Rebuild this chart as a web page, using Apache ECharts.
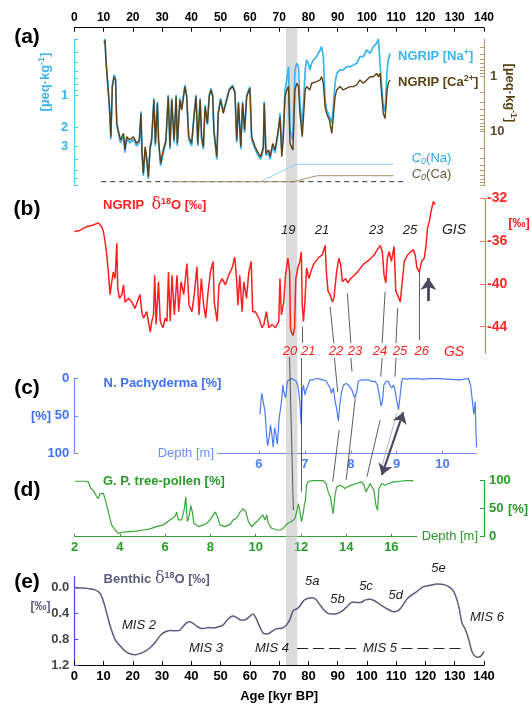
<!DOCTYPE html>
<html><head><meta charset="utf-8">
<script src="https://cdn.jsdelivr.net/npm/echarts@6.0.0/dist/echarts.min.js"></script>
<style>html,body{margin:0;padding:0;background:#fff}#c{width:530px;height:708px}</style>
</head><body><div id="c"></div>
<script>
// ---------- Panel (a): NGRIP Na+ and Ca2+ (µeq/kg) vs age (kyr BP)
const ageA = [10.2,10.5,10.8,11.3,12.0,12.5,13.0,13.6,14.1,14.5,15.0,15.8,16.8,17.3,17.9,19.0,20.2,21.3,22.2,22.8,23.1,23.6,24.2,24.7,25.3,25.9,26.4,27.2,27.7,28.4,28.8,29.5,30.4,31.3,32.1,32.7,33.3,34.1,34.8,35.2,36.1,36.7,37.8,38.4,39.1,40.1,40.9,41.6,42.2,43.0,43.5,44.1,44.7,45.5,46.1,46.7,47.3,47.7,48.7,49.2,50.0,50.9,51.8,52.4,53.0,54.1,54.9,55.5,56.1,56.9,57.5,58.2,58.9,60.0,60.6,61.8,62.9,63.7,64.6,64.9,65.5,66.4,66.9,67.8,68.6,69.7,
70.3,70.9,71.4,72.0,72.6,73.2,73.7,74.7,75.4,76.0,76.6,77.1,77.9,78.9,79.4,80.0,80.5,81.1,81.7,82.8,84.0,84.5,85.1,85.7,86.2,87.2,88.0,88.5,89.1,89.7,90.8,91.9,93.1,94.2,95.4,96.5,97.6,98.8,99.9,101.1,102.2,103.3,103.9,104.5,105.1,105.6,106.2,106.9,107.3,107.9];
const naA = [0.32,0.30,0.46,0.47,1.24,2.6,0.81,0.65,0.70,1.9,
2.25,2.8,2.4,3.46,2.6,2.8,2.6,3.0,2.8,1.43,
3.46,5.7,3.22,4.0,6.1,3.22,2.8,1.07,3.0,1.15,
2.8,4.6,3.46,2.8,1.0,3.22,1.07,2.8,1.0,3.0,
1.07,1.33,0.81,1.0,2.6,3.0,1.54,1.0,3.0,1.07,
2.6,3.22,1.24,1.9,1.0,0.87,1.0,2.25,4.0,1.43,
1.07,1.43,1.15,1.0,0.87,0.81,0.93,2.8,1.15,3.22,
1.15,2.25,1.0,0.84,2.6,3.22,3.7,4.0,3.22,1.15,
3.7,3.46,4.0,3.0,3.46,2.25,
1.48,3.27,2.28,0.90,0.725,0.544,2.12,2.63,0.584,0.506,
0.544,1.20,1.98,0.584,0.471,0.506,0.584,0.506,0.471,0.438,
0.38,0.353,0.438,1.11,1.38,1.59,1.84,1.29,0.778,0.628,
0.584,0.584,0.544,0.544,0.525,0.506,0.438,0.438,0.38,0.408,
0.353,0.329,0.30,0.306,0.898,1.29,1.43,0.584,0.471,0.408];
const caA = [0.26,0.23,0.52,0.55,3.6,12.3,1.55,1.03,1.18,7.1,
9.3,14.1,10.7,21.3,12.3,14.1,12.3,16.2,14.1,4.7,
21.3,56,18.6,28.1,64,18.6,14.1,2.7,16.2,3.1,
14.1,37,21.3,14.1,2.35,18.6,2.7,14.1,2.35,16.2,
2.7,4.1,1.55,2.35,12.3,16.2,5.4,2.35,16.2,2.7,
12.3,18.6,3.6,7.1,2.35,1.78,2.35,9.3,28.1,4.7,
2.7,4.7,3.1,2.35,1.78,1.55,2.05,14.1,3.1,18.6,
3.1,9.3,2.35,1.66,12.3,18.6,24.5,28.1,18.6,3.1,
24.5,21.3,28.1,16.2,21.3,9.3,
5.4,28.1,14.1,2.35,1.78,1.55,16.2,21.3,1.78,1.35,
1.55,4.7,12.3,1.78,1.55,1.66,1.78,1.35,1.35,1.26,
1.18,1.03,1.35,3.56,4.7,6.2,10.7,5.4,2.35,1.78,
1.55,1.78,1.66,1.55,1.55,1.45,1.18,1.35,1.18,1.03,
1.03,0.90,1.03,0.90,2.35,4.7,5.8,1.78,1.35,1.18];
const c0NaAge = [63.5, 76, 109];
const c0Na = [6.46, 4.44, 4.44];
const c0CaAge = [33, 75, 83, 109];
const c0Ca = [79, 79, 61.6, 61.6];
const baseAge = [9.2, 113.6];
const baseNa = [6.46, 6.46];
const naLabelVals = [1, 2, 3];
const naTickVals = [0.3,0.4,0.5,0.6,0.7,0.8,0.9,1,2,3,4,5,6,7];
const caLabelVals = [1, 10];
const caTickVals = [0.3,0.4,0.5,0.6,0.7,0.8,0.9,1,2,3,4,5,6,7,8,9,10,20,30,40,50,60,70,80,90];

// ---------- Panel (b): NGRIP d18O (permil) vs age
const ageB = [0,1.95,4.2,6.5,8.2,9.35,9.9,10.5,11.06,11.6,12.2,12.77,13.3,13.9,14.5,14.8,15.4,16.2,16.8,17.3,18.5,19.6,20.7,21.9,22.4,23.0,23.6,24.7,25.9,26.4,27.0,27.4,27.9,28.7,29.3,30.2,31.0,31.6,32.1,32.7,33.3,34.1,35.0,35.6,36.4,37.3,38.4,39.1,40.1,40.9,41.8,42.5,43.3,44.1,44.8,45.5,46.4,47.3,47.7,48.7,49.3,50.4,51.5,52.6,53.8,54.7,55.3,55.8,56.4,57.2,57.8,58.7,59.5,60.3,60.8,61.7,62.9,64.0,64.6,65.5,66.3,67.4,68.6,69.7,
70.1,70.6,71.4,72.0,72.8,73.4,73.7,74.1,74.6,75.1,75.5,76.2,76.9,77.4,77.7,78.1,78.6,79.2,80.0,80.6,81.5,82.3,83.4,84.5,85.5,86.0,86.5,87.2,88.0,88.5,89.4,90.2,90.8,91.4,92.5,93.3,94.2,95.4,96.5,97.6,98.8,99.9,101.1,102.2,103.3,104.3,105.0,105.6,106.2,106.7,107.3,108.1,109.0,109.6,110.2,111.1,111.9,112.5,113.6,114.7,115.6,116.2,116.8,117.6,118.4,119.3,119.9,120.4,121.0,121.6,122.4,123.0];
const d18O = [-35.1,-35.0,-34.65,-34.5,-34.3,-34.65,-35.1,-36.05,-37.3,-38.9,-41.0,-39.8,-38.9,-39.5,-36.2,-40.4,-41.35,-41.0,-40.1,-41.7,-41.35,-41.7,-42.3,-41.35,-41.0,-42.6,-43.2,-42.6,-44.5,-43.5,-42.9,-39.2,-43.8,-39.8,-43.5,-44.1,-43.2,-43.5,-38.9,-43.5,-39.2,-42.9,-39.2,-42.6,-39.8,-41.0,-38.1,-42.0,-42.6,-41.0,-38.4,-42.9,-39.5,-42.0,-43.2,-41.0,-38.9,-37.9,-41.7,-43.5,-40.1,-39.5,-40.1,-39.2,-38.5,-37.5,-39.5,-42.0,-39.2,-42.6,-39.8,-41.35,-38.9,-37.9,-42.6,-42.6,-43.2,-44.1,-43.8,-42.6,-44.1,-43.8,-44.1,-43.5,
-39.5,-42.9,-41.7,-39.2,-37.6,-38.9,-44.1,-44.6,-44.8,-44.1,-39.5,-38.5,-37.9,-37.0,-42.0,-43.5,-41.7,-38.5,-39.5,-38.9,-38.2,-37.9,-37.5,-37.3,-36.4,-39.2,-40.7,-41.0,-41.7,-41.35,-38.9,-37.6,-38.2,-39.8,-39.5,-39.9,-39.5,-39.2,-38.9,-38.5,-38.1,-37.9,-37.6,-37.3,-36.8,-36.4,-37.0,-39.2,-39.9,-37.6,-37.0,-37.9,-36.5,-40.7,-41.0,-41.7,-39.5,-37.9,-37.3,-37.0,-36.8,-37.3,-38.5,-38.9,-37.9,-37.6,-36.4,-34.8,-34.2,-33.25,-32.3,-32.6];
const d18Ticks = [-44, -40, -36, -32];

// ---------- Panel (c): N. pachyderma (%) vs depth (m)
const depthC = [6.02,6.06,6.09,6.13,6.17,6.19,6.23,6.25,6.28,6.31,6.34,6.37,6.40,6.44,6.49,6.52,6.54,6.58,6.62,6.66,6.71,6.76,6.81,6.84,6.86,6.89,6.92,6.94,6.97,7.00,7.04,7.07,7.11,7.18,7.26,7.33,7.40,7.47,7.51,7.55,7.58,7.62,7.66,7.69,7.73,7.76,7.80,7.84,7.90,7.95,7.98,8.02,8.06,8.09,8.13,8.16,8.24,8.31,8.38,8.45,8.53,8.58,8.62,8.66,8.69,8.72,8.77,8.82,8.85,8.89,8.93,8.96,9.00,9.04,9.07,9.11,9.14,9.22,9.36,9.58,9.80,10.09,10.38,10.56,10.61,10.65,10.68,10.71,10.73,10.74];
const pachy = [48,20,22,44,79,90,75,62,75,92,66,75,88,53,31,9,18,26,4,2,0,2,4,9,15,31,62,18,9,22,13,9,2,2,0,1,2,4,9,13,20,13,31,40,57,35,18,9,7,9,7,15,22,26,18,4,2,2,2,4,4,9,22,37,31,9,4,4,9,13,9,15,29,42,26,4,0,1,0,1,0,1,2,0,9,31,48,31,75,92];
const depthCTicks = [6, 7, 8, 9, 10];
const pachyTicks = [0, 50, 100];

// ---------- Panel (d): G. P. tree pollen (%) vs depth (m)
const depthD = [2.01,2.46,2.60,2.71,2.82,2.94,3.04,3.12,3.19,3.27,3.38,3.49,3.63,3.78,3.93,4.15,4.44,4.74,5.03,5.33,5.62,5.92,6.21,6.43,6.51,6.58,6.73,6.85,6.91,6.98,7.07,7.13,7.20,7.27,7.47,7.69,7.84,7.98,8.13,8.22,8.31,8.42,8.64,8.87,9.01,9.16,9.31,9.45,9.57,9.68,9.82,9.97,10.12,10.19,10.31,10.41,10.49,10.56,10.71,10.93,11.10,11.22,11.34,11.44,11.59,11.74,11.81,11.89,11.96,12.03,12.11,12.15,12.20,12.25,12.33,12.55,12.84,12.99,13.11,13.21,13.32,13.39,13.43,13.51,13.58,13.73,13.85,13.95,14.05,14.24,14.46,14.69,14.79,14.88,14.95,15.06,15.14,15.23,15.32,15.39,15.45,15.57,15.72,15.87,16.09,16.38,16.68,16.97];
const pollen = [99,99,98,86,83,74,68,77,80,77,62,44,21,12,6,8,9,10,12,14,18,21,30,36,44,30,30,50,71,27,39,56,44,24,18,21,24,30,39,44,36,21,18,22,30,33,44,50,44,27,18,24,30,33,39,30,39,24,15,12,12,15,21,24,27,33,44,59,44,27,44,56,65,92,99,100,100,100,95,80,68,50,41,74,89,92,89,86,89,92,95,98,92,80,83,95,92,83,56,47,86,95,92,95,98,99,100,100];
const depthDTicks = [2, 4, 6, 8, 10, 12, 14, 16];
const pollenTicks = [0, 50, 100];

// ---------- Panel (e): Benthic d18O (permil) vs age
const ageE = [0,2.5,4.8,7.1,8.8,10.0,11.1,12.3,14.0,15.8,17.5,19.2,20.9,22.6,24.4,26.1,27.8,29.6,31.3,33.0,34.7,36.2,37.6,39.1,40.5,42.2,43.9,45.7,47.4,49.1,50.8,52.3,54.1,55.4,56.8,58.3,59.8,61.0,62.1,63.3,64.6,66.0,67.5,69.0,71.0,72.5,73.6,74.8,76.1,77.3,78.4,79.9,81.3,82.5,84.0,85.3,86.7,88.2,89.9,91.7,93.4,95.1,96.6,98.0,99.5,100.9,102.4,103.8,105.2,106.6,108.4,109.5,111.0,112.3,113.9,115.3,117.0,118.7,120.4,122.2,123.9,125.6,127.3,129.1,130.2,131.4,132.5,133.7,134.8,135.7,136.5,137.7,138.8,140.0];
const benthic = [0.0,0.005,0.015,0.035,0.087,0.22,0.40,0.60,0.81,0.91,0.99,1.03,1.04,1.02,0.98,0.925,0.84,0.73,0.68,0.665,0.67,0.655,0.58,0.53,0.55,0.61,0.635,0.62,0.625,0.61,0.58,0.50,0.44,0.46,0.50,0.50,0.45,0.41,0.475,0.60,0.71,0.72,0.68,0.64,0.63,0.58,0.50,0.356,0.33,0.27,0.20,0.165,0.155,0.18,0.27,0.346,0.40,0.41,0.40,0.356,0.284,0.222,0.232,0.227,0.19,0.18,0.20,0.24,0.284,0.32,0.366,0.372,0.346,0.27,0.165,0.113,0.062,0.0,-0.026,-0.042,-0.057,-0.052,-0.032,0.025,0.113,0.294,0.55,0.656,0.81,0.966,1.043,1.08,1.07,0.99];
const benthicTicks = [0, 0.4, 0.8, 1.2];

// ---------- shared: shaded interval (kyr BP)
const bandAge = [72.3, 76.2];

// ---------- styling
const FF = '"Liberation Sans", Arial, Helvetica, sans-serif';
const NA_C = '#3cb4f0', CA_C = '#5a4216', RED = '#ff1f1f', GREEN = '#34a132', SLATE = '#5b5b7b';
const L = Math.log10;
const pairs = (xs, ys, f) => xs.map((x, i) => [x, f ? f(ys[i]) : ys[i]]);

// annotation geometry in overlay units: [age, page row]
const connectors = [
  [[73.55,357],[74.85,510]],
  [[77.8,326.7],[77.8,343]],
  [[77.5,358],[77.5,491.7]],
  [[87.4,306.7],[88.7,343.3]],
  [[88.9,358],[90.0,391.7]],
  [[90.5,430],[88.3,481.7]],
  [[93.3,293.3],[94.5,343.3]],
  [[94.5,358],[94.9,371.7]],
  [[96.0,398.3],[92.9,480]],
  [[106.2,291.7],[105.2,343.3]],
  [[105.2,358],[104.7,376.7]],
  [[104.5,420],[100.0,476.7]],
  [[110.5,308.3],[109.9,343.3]],
  [[109.9,358],[109.6,376.7]],
  [[117.8,271.7],[117.8,340]]
];
const thinConnector = [[110.2,413.3],[105.1,466.7]];
const upArrow = [[121.0,301],[121.0,278]];
const dblArrow = [[112.4,412.3],[105.1,475]];
const misDashes = [[[76.1,648],[96.9,648]],[[111.8,648],[132.5,648]]];

function T(x, y, text, st, rot) {
  const e = {type:'text', x:x, y:y, z:100, silent:true,
    style:Object.assign({text:text, fontFamily:FF, fontSize:13, fill:'#000', align:'center', verticalAlign:'middle'}, st || {})};
  if (rot) e.rotation = rot;
  return e;
}
function richSup(c, size, bold) {
  return {a:{fontSize:size, fontWeight:bold?'bold':'normal', fill:c, fontFamily:FF, lineHeight:size+3},
          s:{fontSize:Math.round(size*0.68), fontWeight:bold?'bold':'normal', fill:c, fontFamily:FF, verticalAlign:'top', lineHeight:Math.round(size*0.68)},
          d:{fontSize:size+3, fill:c, fontFamily:'"DejaVu Serif", serif', lineHeight:size+3}};
}
function c0Rich(c) {
  return {i:{fontStyle:'italic', fontSize:13, fill:c, fontFamily:FF, lineHeight:16},
          b:{fontStyle:'italic', fontSize:9, fill:c, fontFamily:FF, verticalAlign:'bottom', lineHeight:9},
          n:{fontSize:13, fill:c, fontFamily:FF, lineHeight:16}};
}
const lblBold = (c, size) => ({color:c, fontWeight:'bold', fontSize:size || 13, fontFamily:FF});
const noSplit = {show:false};
const line = (c, w) => ({show:true, onZero:false, lineStyle:{color:c, width:w || 1.2}});

const gridBase = {containLabel:false, outerBoundsMode:'none'};
const option = {
  animation:false,
  backgroundColor:'#fff',
  textStyle:{fontFamily:FF},
  grid:[
    Object.assign({left:74.3, right:46, top:39, height:146.4}, gridBase),
    Object.assign({left:74.3, right:45, top:198.3, height:154.7}, gridBase),
    Object.assign({left:218, right:53.5, top:378.3, height:75}, gridBase),
    Object.assign({left:74.7, right:113.3, top:480.7, height:56}, gridBase),
    Object.assign({left:74.3, right:46, top:576.7, height:88.3}, gridBase),
    Object.assign({left:74.3, right:46, top:0, height:708}, gridBase)
  ],
  xAxis:[
    {gridIndex:0, type:'value', min:0, max:140, interval:10, position:'top', offset:11.3,
      axisLine:line('#000', 1), axisTick:{show:true, inside:true, length:4, lineStyle:{color:'#000'}},
      axisLabel:Object.assign({margin:4}, lblBold('#000', 12)), splitLine:noSplit},
    {gridIndex:1, type:'value', min:0, max:140, show:false, axisLine:{onZero:false}},
    {gridIndex:2, type:'value', min:5.107, max:10.739, position:'bottom',
      axisLine:line('#6b8ff5'),
      axisTick:{show:true, inside:true, length:3, customValues:depthCTicks, lineStyle:{color:'#6b8ff5'}},
      axisLabel:Object.assign({margin:5, customValues:depthCTicks}, lblBold('#4f7ff2', 13)), splitLine:noSplit,
      name:'Depth [m]', nameLocation:'start', nameGap:4, nameMoveOverlap:false,
      nameTextStyle:{color:'#6b8ff5', fontSize:13, fontFamily:FF}},
    {gridIndex:3, type:'value', min:2, max:17.12, position:'bottom',
      axisLine:line(GREEN),
      axisTick:{show:true, inside:true, length:3, customValues:depthDTicks, lineStyle:{color:GREEN}},
      axisLabel:Object.assign({margin:4, customValues:depthDTicks}, lblBold('#2a9a2a', 13)), splitLine:noSplit,
      name:'Depth [m]', nameLocation:'end', nameGap:5, nameMoveOverlap:false,
      nameTextStyle:{color:'#2a9a2a', fontSize:13, fontFamily:FF}},
    {gridIndex:4, type:'value', min:0, max:140, interval:10, position:'bottom',
      axisLine:line('#000', 1), axisTick:{show:true, inside:true, length:4, lineStyle:{color:'#000'}},
      axisLabel:Object.assign({margin:5}, lblBold('#000', 13)), splitLine:noSplit,
      name:'Age [kyr BP]', nameLocation:'middle', nameGap:25, nameMoveOverlap:false,
      nameTextStyle:{color:'#000', fontWeight:'bold', fontSize:13, fontFamily:FF}},
    {gridIndex:5, type:'value', min:0, max:140, show:false, axisLine:{onZero:false}}
  ],
  yAxis:[
    {gridIndex:0, type:'value', inverse:true, min:L(0.3), max:L(7), position:'left',
      axisLine:line('#5cc6f5'),
      axisTick:{show:true, inside:true, length:4, customValues:naTickVals.map(L), lineStyle:{color:'#5cc6f5'}},
      axisLabel:Object.assign({margin:6, customValues:naLabelVals.map(L), formatter:v => String(Math.round(Math.pow(10, v)))}, lblBold(NA_C, 13)),
      splitLine:noSplit},
    {gridIndex:0, type:'value', inverse:true, min:L(0.217), max:L(92), position:'right',
      axisLine:line('#b39d72'),
      axisTick:{show:true, inside:true, length:4, customValues:caTickVals.map(L), lineStyle:{color:'#b39d72'}},
      axisLabel:Object.assign({margin:6, customValues:caLabelVals.map(L), formatter:v => String(Math.round(Math.pow(10, v)))}, lblBold('#5d4a2a', 13)),
      splitLine:noSplit},
    {gridIndex:1, type:'value', min:-46.46, max:-32, position:'right',
      axisLine:line('#ff6a6a'),
      axisTick:{show:true, inside:true, length:5, customValues:d18Ticks, lineStyle:{color:'#ff6a6a'}},
      axisLabel:Object.assign({margin:2, customValues:d18Ticks, formatter:v => String(v)}, lblBold('#ff2a2a', 14)),
      splitLine:noSplit},
    {gridIndex:2, type:'value', inverse:true, min:0, max:100, interval:50, position:'left', offset:143.7,
      axisLine:line('#6b8ff5'),
      axisTick:{show:true, inside:true, length:4, lineStyle:{color:'#6b8ff5'}},
      axisLabel:Object.assign({margin:5, customValues:pachyTicks}, lblBold('#3f6ff2', 13)), splitLine:noSplit},
    {gridIndex:3, type:'value', min:0, max:100, interval:50, position:'right', offset:67.3,
      axisLine:line(GREEN),
      axisTick:{show:true, inside:true, length:4, lineStyle:{color:GREEN}},
      axisLabel:Object.assign({margin:5, customValues:pollenTicks}, lblBold('#2a9a2a', 13)), splitLine:noSplit},
    {gridIndex:4, type:'value', inverse:true, min:-0.17, max:1.2, position:'left',
      axisLine:line('#4646d8'),
      axisTick:{show:true, inside:true, length:4, customValues:benthicTicks, lineStyle:{color:'#4646d8'}},
      axisLabel:Object.assign({margin:5, customValues:benthicTicks, formatter:v => v.toFixed(1)}, lblBold('#444', 13)),
      splitLine:noSplit},
    {gridIndex:5, type:'value', inverse:true, min:0, max:708, show:false, axisLine:{onZero:false}}
  ],
  series:[
    {type:'line', xAxisIndex:5, yAxisIndex:6, data:[], z:0, silent:true,
      markArea:{silent:true, itemStyle:{color:'rgba(200,200,200,0.65)'},
        data:[[{coord:[bandAge[0], 27.7]}, {coord:[bandAge[1], 665]}]]}},
    {type:'line', name:'baseline', xAxisIndex:0, yAxisIndex:0, data:pairs(baseAge, baseNa, L), showSymbol:false, z:2,
      lineStyle:{color:'#333', width:1, type:[5,4]}},
    {type:'line', name:'NGRIP Na', xAxisIndex:0, yAxisIndex:0, data:pairs(ageA, naA, L), showSymbol:false, z:3,
      lineStyle:{color:NA_C, width:1.7}},
    {type:'line', name:'NGRIP Ca', xAxisIndex:0, yAxisIndex:1, data:pairs(ageA, caA, L), showSymbol:false, z:4,
      lineStyle:{color:CA_C, width:1.4}},
    {type:'line', name:'C0 Na', xAxisIndex:0, yAxisIndex:0, data:pairs(c0NaAge, c0Na, L), showSymbol:false, z:3,
      lineStyle:{color:'#8fd3f5', width:1}},
    {type:'line', name:'C0 Ca', xAxisIndex:0, yAxisIndex:1, data:pairs(c0CaAge, c0Ca, L), showSymbol:false, z:3,
      lineStyle:{color:'#a88f68', width:1}},
    {type:'line', name:'NGRIP d18O', xAxisIndex:1, yAxisIndex:2, data:pairs(ageB, d18O), showSymbol:false, z:3,
      lineStyle:{color:RED, width:1.5}},
    {type:'line', name:'N. pachyderma', xAxisIndex:2, yAxisIndex:3, data:pairs(depthC, pachy), showSymbol:false, z:3,
      lineStyle:{color:'#4a7af5', width:1.2}},
    {type:'line', name:'tree pollen', xAxisIndex:3, yAxisIndex:4, data:pairs(depthD, pollen), showSymbol:false, z:3,
      lineStyle:{color:'#3aa637', width:1.2}},
    {type:'line', name:'benthic', xAxisIndex:4, yAxisIndex:5, data:pairs(ageE, benthic), showSymbol:false, smooth:0.3, z:3,
      lineStyle:{color:SLATE, width:1.5}},
    {type:'line', xAxisIndex:5, yAxisIndex:6, data:[], z:10, silent:true,
      markLine:{silent:true, symbol:['none','none'], label:{show:false}, animation:false,
        lineStyle:{color:'#333', width:0.8, type:'solid'},
        data:connectors.map(c => [{coord:c[0]}, {coord:c[1]}])
          .concat([[{coord:thinConnector[0], lineStyle:{color:'#999', width:0.7, type:'solid'}}, {coord:thinConnector[1]}]])}},
    {type:'line', xAxisIndex:5, yAxisIndex:6, data:[], z:10, silent:true,
      markLine:{silent:true, symbol:['none','none'], label:{show:false}, animation:false,
        lineStyle:{color:'#222', width:1, type:[11,5]},
        data:misDashes.map(c => [{coord:c[0]}, {coord:c[1]}])}},
    {type:'line', xAxisIndex:5, yAxisIndex:6, data:[], z:11, silent:true,
      markLine:{silent:true, symbol:['none','arrow'], symbolSize:12, label:{show:false}, animation:false,
        lineStyle:{color:'#4a4a5e', width:2.8, type:'solid', opacity:1}, itemStyle:{color:'#4a4a5e'},
        data:[[{coord:upArrow[0]}, {coord:upArrow[1]}]]}},
    {type:'line', xAxisIndex:5, yAxisIndex:6, data:[], z:11, silent:true,
      markLine:{silent:true, symbol:['arrow','arrow'], symbolSize:11, label:{show:false}, animation:false,
        lineStyle:{color:'#4a4a5e', width:2.2, type:'solid', opacity:1}, itemStyle:{color:'#4a4a5e'},
        data:[[{coord:dblArrow[0]}, {coord:dblArrow[1]}]]}}
  ],
  graphic:{elements:[
    T(27, 37, '(a)', {fontSize:21, fontWeight:'bold'}),
    T(27, 209, '(b)', {fontSize:21, fontWeight:'bold'}),
    T(27, 388, '(c)', {fontSize:21, fontWeight:'bold'}),
    T(27, 490, '(d)', {fontSize:21, fontWeight:'bold'}),
    T(27, 582, '(e)', {fontSize:21, fontWeight:'bold'}),
    T(398, 56, '{a|NGRIP [Na}{s|+}{a|]}', {align:'left', rich:richSup(NA_C, 13, true)}),
    T(398, 82.5, '{a|NGRIP [Ca}{s|2+}{a|]}', {align:'left', rich:richSup(CA_C, 13, true)}),
    T(45, 82, '{a|[µeq·kg}{s|-1}{a|]}', {rich:richSup(NA_C, 13, true)}, Math.PI/2),
    T(510, 93, '{a|[µeq·kg}{s|-1}{a|]}', {rich:richSup(CA_C, 13, true)}, -Math.PI/2),
    T(411.7, 158.3, '{i|C}{b|0}{n|(Na)}', {align:'left', rich:c0Rich('#29a9e8')}),
    T(411.7, 174, '{i|C}{b|0}{n|(Ca)}', {align:'left', rich:c0Rich('#6b5a3a')}),
    T(103, 205, '{a|NGRIP  }{d|δ}{s|18}{a|O [‰]}', {align:'left', rich:richSup('#ff2020', 13, true)}),
    T(519, 223.3, '[‰]', {fill:'#ff2020', fontWeight:'bold', fontSize:13}),
    T(288.3, 230, '19', {fontStyle:'italic', fill:'#222', fontSize:13}),
    T(322, 230, '21', {fontStyle:'italic', fill:'#222', fontSize:13}),
    T(376.3, 230, '23', {fontStyle:'italic', fill:'#222', fontSize:13}),
    T(410, 230, '25', {fontStyle:'italic', fill:'#222', fontSize:13}),
    T(454, 230, 'GIS', {fontStyle:'italic', fill:'#222', fontSize:14}),
    T(290, 351.7, '20', {fontStyle:'italic', fill:'#ff2020', fontSize:13}),
    T(308.3, 351.7, '21', {fontStyle:'italic', fill:'#ff2020', fontSize:13}),
    T(336, 351.7, '22', {fontStyle:'italic', fill:'#ff2020', fontSize:13}),
    T(355, 351.7, '23', {fontStyle:'italic', fill:'#ff2020', fontSize:13}),
    T(380, 351.7, '24', {fontStyle:'italic', fill:'#ff2020', fontSize:13}),
    T(400, 351.7, '25', {fontStyle:'italic', fill:'#ff2020', fontSize:13}),
    T(421.7, 351.7, '26', {fontStyle:'italic', fill:'#ff2020', fontSize:13}),
    T(454, 351.7, 'GS', {fontStyle:'italic', fill:'#ff2020', fontSize:14}),
    T(103.6, 383.3, 'N. Pachyderma [%]', {align:'left', fill:'#3f6ff2', fontWeight:'bold'}),
    T(41, 416, '[%]', {fill:'#3f6ff2', fontWeight:'bold'}),
    T(103, 481, 'G. P. tree-pollen [%]', {align:'left', fill:'#2a9a2a', fontWeight:'bold'}),
    T(518, 509, '[%]', {fill:'#2a9a2a', fontWeight:'bold'}),
    T(103.6, 579.3, '{a|Benthic }{d|δ}{s|18}{a|O [‰]}', {align:'left', rich:richSup(SLATE, 13, true)}),
    T(40.5, 606.7, '[‰]', {fill:SLATE, fontWeight:'bold', fontSize:12}),
    T(139, 625.7, 'MIS 2', {fontStyle:'italic', fill:'#222'}),
    T(206, 648, 'MIS 3', {fontStyle:'italic', fill:'#222'}),
    T(272, 648, 'MIS 4', {fontStyle:'italic', fill:'#222'}),
    T(380, 648, 'MIS 5', {fontStyle:'italic', fill:'#222'}),
    T(487, 617, 'MIS 6', {fontStyle:'italic', fill:'#222'}),
    T(312.3, 581.7, '5a', {fontStyle:'italic', fill:'#222'}),
    T(337.5, 599.3, '5b', {fontStyle:'italic', fill:'#222'}),
    T(366, 586.7, '5c', {fontStyle:'italic', fill:'#222'}),
    T(395.7, 595, '5d', {fontStyle:'italic', fill:'#222'}),
    T(438.5, 568.3, '5e', {fontStyle:'italic', fill:'#222'})
  ]}
};
const chart = echarts.init(document.getElementById('c'), null, {renderer:'canvas', width:530, height:708});
chart.setOption(option);
</script></body></html>
